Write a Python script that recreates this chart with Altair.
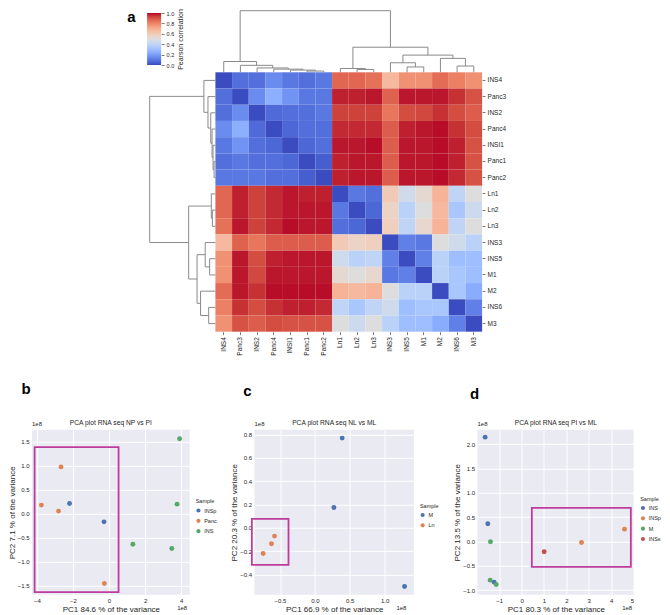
import altair as alt
import pandas as pd

# ---------------- data ----------------
labels = ["INS4", "Panc3", "INS2", "Panc4", "INSI1", "Panc1", "Panc2",
          "Ln1", "Ln2", "Ln3", "INS3", "INS5", "M1", "M2", "INS6", "M3"]

# upper triangle of the correlation matrix (values right of the diagonal, row by row)
upper = [
    [0.08, 0.08, 0.15, 0.10, 0.08, 0.10, 0.86, 0.86, 0.84, 0.66, 0.77, 0.77, 0.85, 0.81, 0.77],
    [0.15, 0.25, 0.17, 0.10, 0.10, 0.97, 0.97, 0.98, 0.87, 0.98, 0.98, 0.98, 0.95, 0.90],
    [0.07, 0.08, 0.08, 0.10, 0.93, 0.93, 0.93, 0.83, 0.91, 0.92, 0.95, 0.91, 0.88],
    [0.06, 0.08, 0.08, 0.96, 0.96, 0.96, 0.88, 0.97, 0.98, 0.99, 0.95, 0.91],
    [0.06, 0.08, 0.98, 0.98, 0.99, 0.88, 0.98, 0.98, 0.99, 0.97, 0.90],
    [0.04, 0.97, 0.98, 0.98, 0.88, 0.98, 0.98, 0.99, 0.97, 0.90],
    [0.97, 0.98, 0.98, 0.88, 0.98, 0.98, 0.99, 0.96, 0.90],
    [0.10, 0.08, 0.60, 0.45, 0.53, 0.68, 0.40, 0.50],
    [0.06, 0.56, 0.38, 0.50, 0.66, 0.33, 0.44],
    [0.58, 0.40, 0.54, 0.68, 0.40, 0.50],
    [0.12, 0.10, 0.50, 0.45, 0.38],
    [0.12, 0.38, 0.30, 0.30],
    [0.38, 0.33, 0.30],
    [0.33, 0.24],
    [0.12],
]

# hierarchical clustering (leaves 0..15, merges numbered from 16)
merge_left = [5, 4, 3, 2, 1, 0, 8, 7, 11, 10, 14, 13, 25, 23, 21]
merge_right = [6, 16, 17, 18, 19, 20, 9, 22, 12, 24, 15, 26, 27, 28, 29]
merge_height = [0.02, 0.036, 0.051, 0.071, 0.113, 0.175, 0.046, 0.062,
                0.087, 0.155, 0.102, 0.226, 0.279, 0.407, 1.0]

# coolwarm colour map
cmap_offsets = [0.0, 0.0625, 0.125, 0.1875, 0.25, 0.3125, 0.375, 0.4375, 0.5,
                0.5625, 0.625, 0.6875, 0.75, 0.8125, 0.875, 0.9375, 1.0]
cmap_colors = ["#3b4cc0", "#4d68d7", "#6282ea", "#779af7", "#8db0fe", "#a3c2ff",
               "#b8d0f9", "#ccd9ee", "#dddddd", "#ecd3c5", "#f5c4ad", "#f7b194",
               "#f49a7b", "#ec7f63", "#de604d", "#cb3e38", "#b40426"]
cbar_ticks = [0.0, 0.2, 0.4, 0.6, 0.8, 1.0]

# panel b
b_sample = ["INSp", "INSp", "Panc", "Panc", "Panc", "Panc", "INS", "INS", "INS", "INS"]
b_pc1 = [-2.19, -0.28, -2.66, -3.75, -2.80, -0.26, 3.91, 3.77, 1.32, 3.48]
b_pc2 = [0.208, -0.174, 0.97, 0.174, 0.049, -1.458, 1.556, 0.194, -0.64, -0.73]
b_order = ["INSp", "Panc", "INS"]
b_colors = ["#4C72B0", "#DD8452", "#55A868"]
b_box = [-4.125, 0.528, -1.639, 1.382]

# panel c
c_sample = ["M", "M", "M", "Ln", "Ln", "Ln"]
c_pc1 = [0.392, 0.273, 1.287, -0.579, -0.622, -0.742]
c_pc2 = [0.769, 0.174, -0.503, -0.071, -0.137, -0.22]
c_order = ["M", "Ln"]
c_colors = ["#4C72B0", "#DD8452"]
c_box = [-0.904, -0.378, -0.317, 0.077]

# panel d
d_sample = ["INS", "INS", "INS", "INSp", "INSp", "M", "M", "M", "INSs"]
d_pc1 = [-1.628, -1.509, -1.226, 2.676, 4.598, -1.39, -1.404, -1.136, 1.008]
d_pc2 = [2.144, 0.363, -0.836, -0.021, 0.253, -0.007, -0.795, -0.884, -0.212]
d_order = ["INS", "INSp", "M", "INSs"]
d_colors = ["#4C72B0", "#DD8452", "#55A868", "#C44E52"]
d_box = [0.457, 4.88, -0.521, 0.692]

TXT = "#262626"
MAG = "#BE3C9E"
DENDRO = "#8a8a8a"
FONT = "Liberation Sans"

# ---------------- top panel geometry (pixels inside the top chart) ----------------
X0 = 31.6                               # page x of the chart origin
TOP_W, TOP_H = 481.7 - X0, 321.7
HX = [215.0 - X0, 481.7 - X0]           # heatmap left/right
HY = [62.3, 321.7]                      # heatmap top/bottom
CBX = [146.7 - X0, 160.7 - X0]          # colour bar left/right
CBY = [55.0, 3.0]                       # colour bar bottom/top

n = len(labels)
mat = [[0.0] * n for _ in range(n)]
for i, row_vals in enumerate(upper):
    for k, v in enumerate(row_vals):
        j = i + 1 + k
        mat[i][j] = v
        mat[j][i] = v
heat_df = pd.DataFrame([(labels[i], labels[j], mat[i][j]) for i in range(n) for j in range(n)],
                       columns=["row", "col", "value"])

heat = alt.Chart(heat_df).mark_rect().encode(
    x=alt.X("col:N", sort=labels, scale=alt.Scale(range=HX, paddingInner=0, paddingOuter=0),
            axis=alt.Axis(title=None, orient="bottom", labelAngle=270, labelFontSize=6.5,
                          labelColor=TXT, tickSize=3, tickColor=TXT, tickWidth=0.6, domain=False,
                          labelPadding=2, labelOverlap=False)),
    y=alt.Y("row:N", sort=labels, scale=alt.Scale(range=HY, paddingInner=0, paddingOuter=0),
            axis=alt.Axis(title=None, orient="right", labelFontSize=6.5, labelColor=TXT,
                          tickSize=3, tickColor=TXT, tickWidth=0.6, domain=False,
                          labelPadding=2, labelOverlap=False)),
    color=alt.Color("value:Q", scale=alt.Scale(domain=cmap_offsets, range=cmap_colors,
                                               interpolate="rgb"), legend=None),
)

# dendrogram segments
pos = [i + 0.5 for i in range(n)]
hgt = [0.0] * n
segs = []
for l, r, h in zip(merge_left, merge_right, merge_height):
    pl, pr = pos[l], pos[r]
    segs.append((pl, hgt[l], pl, h))
    segs.append((pl, h, pr, h))
    segs.append((pr, h, pr, hgt[r]))
    pos.append((pl + pr) / 2)
    hgt.append(h)
seg_df = pd.DataFrame(segs, columns=["p1", "h1", "p2", "h2"])

top_dendro = alt.Chart(seg_df).mark_rule(color=DENDRO, strokeWidth=1).encode(
    x=alt.X("p1:Q", scale=alt.Scale(domain=[0, n], range=HX, nice=False, zero=False), axis=None),
    x2="p2:Q",
    y=alt.Y("h1:Q", scale=alt.Scale(domain=[0, 1.0], range=[HY[0], 0.7], nice=False), axis=None),
    y2="h2:Q",
)
left_dendro = alt.Chart(seg_df).mark_rule(color=DENDRO, strokeWidth=1).encode(
    y=alt.Y("p1:Q", scale=alt.Scale(domain=[0, n], range=HY, nice=False, zero=False), axis=None),
    y2="p2:Q",
    x=alt.X("h1:Q", scale=alt.Scale(domain=[0, 1.0], range=[HX[0], HX[0] - 65.7], nice=False), axis=None),
    x2="h2:Q",
)

cbar = alt.Chart(pd.DataFrame({"lo": [0.0], "hi": [1.0]})).mark_rect(
    fill=alt.Gradient(gradient="linear",
                      stops=[alt.GradientStop(color=c, offset=o) for c, o in zip(cmap_colors, cmap_offsets)],
                      x1=0, x2=0, y1=1, y2=0),
    strokeWidth=0,
).encode(
    x=alt.X("lo:Q", scale=alt.Scale(domain=[0, 1], range=CBX, nice=False), axis=None),
    x2="hi:Q",
    y=alt.Y("lo:Q", scale=alt.Scale(domain=[0, 1], range=CBY, nice=False), axis=alt.Axis(
        orient="right", offset=CBX[1] - TOP_W, values=cbar_ticks, format=".1f",
        title="Pearson correlation", titleAngle=270, titleBaseline="top", labelFontSize=5.5,
        titleFontSize=7, titleFontWeight="normal", tickSize=3, tickColor=TXT, tickWidth=0.6,
        domain=False, labelPadding=2, titlePadding=3, labelColor=TXT, titleColor=TXT,
        grid=False, labelOverlap=False)),
    y2="hi:Q",
)

a_label = alt.Chart(pd.DataFrame({"t": ["a"]})).mark_text(
    fontSize=15, fontWeight="bold", color="black", align="center", baseline="middle"
).encode(text="t:N", x=alt.value(131 - X0), y=alt.value(7))

top_chart = alt.layer(heat, top_dendro, left_dendro, cbar, a_label).resolve_scale(
    x="independent", y="independent").properties(width=TOP_W, height=TOP_H)

# ---------------- PCA panels ----------------
def pca_panel(pc1, pc2, sample, order, colors, xdom, ydom, xticks, yticks, xfmt, yfmt,
              title, xtitle, ytitle, box, letter, width, leg_dy, let_dx, let_dy, off_dx):
    height = 165
    pts = pd.DataFrame({"pc1": pc1, "pc2": pc2, "Sample": sample})
    xs = alt.Scale(domain=xdom, nice=False, zero=False)
    ys = alt.Scale(domain=ydom, nice=False, zero=False)
    common = dict(grid=True, gridColor="white", gridWidth=1, domain=False, ticks=False,
                  labelFontSize=6, labelColor=TXT, titleFontSize=8, titleFontWeight="normal",
                  titleColor=TXT, labelOverlap=False)
    xaxis = alt.Axis(values=xticks, format=xfmt, title=xtitle, labelPadding=3, titlePadding=1.5, **common)
    yaxis = alt.Axis(values=yticks, format=yfmt, title=ytitle, labelPadding=3, titlePadding=1, **common)
    points = alt.Chart(pts).mark_circle(size=24, opacity=1).encode(
        x=alt.X("pc1:Q", scale=xs, axis=xaxis),
        y=alt.Y("pc2:Q", scale=ys, axis=yaxis),
        color=alt.Color("Sample:N", scale=alt.Scale(domain=order, range=colors), sort=order,
                        legend=alt.Legend(title="Sample", orient="none", legendX=width + 6,
                                          legendY=leg_dy, titleFontSize=5.5, titleFontWeight="normal",
                                          labelFontSize=5.5, symbolSize=17, symbolType="circle",
                                          rowPadding=3.3, titlePadding=3, labelOffset=3, padding=0,
                                          titleColor=TXT, labelColor=TXT, symbolStrokeWidth=0)),
    )
    box_df = pd.DataFrame({"pc1": [box[0]], "pc1_end": [box[1]], "pc2": [box[2]], "pc2_end": [box[3]]})
    rect = alt.Chart(box_df).mark_rect(fillOpacity=0, stroke=MAG, strokeWidth=1.8).encode(
        x=alt.X("pc1:Q", scale=xs, axis=xaxis), x2="pc1_end:Q",
        y=alt.Y("pc2:Q", scale=ys, axis=yaxis), y2="pc2_end:Q",
    )
    off_top = alt.Chart(pd.DataFrame({"t": ["1e8"]})).mark_text(
        fontSize=6, color=TXT, align="left", baseline="middle"
    ).encode(text="t:N", x=alt.value(0), y=alt.value(-6))
    off_bot = alt.Chart(pd.DataFrame({"t": ["1e8"]})).mark_text(
        fontSize=6, color=TXT, align="right", baseline="middle"
    ).encode(text="t:N", x=alt.value(width + off_dx), y=alt.value(height + 13))
    ttl = alt.Chart(pd.DataFrame({"t": [title]})).mark_text(
        fontSize=6.7, color=TXT, align="center", baseline="middle"
    ).encode(text="t:N", x=alt.value(width / 2), y=alt.value(-7))
    let = alt.Chart(pd.DataFrame({"t": [letter]})).mark_text(
        fontSize=15, fontWeight="bold", color="black", align="center", baseline="middle"
    ).encode(text="t:N", x=alt.value(let_dx), y=alt.value(let_dy))
    return alt.layer(points, rect, off_top, off_bot, ttl, let).properties(
        width=width, height=height,
        view=alt.ViewBackground(fill="#EAEAF2", stroke=None),
    )

pb = pca_panel(b_pc1, b_pc2, b_sample, b_order, b_colors, [-4.27, 4.47], [-1.694, 1.743],
               [-4, -2, 0, 2, 4], [-1.5, -1.0, -0.5, 0.0, 0.5, 1.0, 1.5], "d", ".1f",
               "PCA plot RNA seq NP vs PI", "PC1 84.6 % of the variance", "PC2 7.1 % of the variance",
               b_box, "b", 189.3 - X0, 69.5, -6, -41, -2.5)
pc = pca_panel(c_pc1, c_pc2, c_sample, c_order, c_colors, [-0.866, 1.421], [-0.574, 0.84],
               [-0.5, 0.0, 0.5, 1.0], [-0.4, -0.2, 0.0, 0.2, 0.4, 0.6, 0.8], ".1f", ".1f",
               "PCA plot RNA seq NL vs ML", "PC1 66.9 % of the variance", "PC2 20.3 % of the variance",
               c_box, "c", 159.4, 74, -7, -39, -7.5)
pdd = pca_panel(d_pc1, d_pc2, d_sample, d_order, d_colors, [-1.97, 5.03], [-1.096, 2.295],
                [-2, -1, 0, 1, 2, 3, 4, 5], [-1.0, -0.5, 0.0, 0.5, 1.0, 1.5, 2.0], "d", ".1f",
                "PCA plot RNA seq PI vs ML", "PC1 80.3 % of the variance", "PC2 13.5 % of the variance",
                d_box, "d", 156.7, 67, -3, -36, -2)

# ---------------- layout ----------------
pca_inner = alt.hconcat(pb, pc, spacing=12.5).resolve_scale(color="independent").resolve_legend(color="independent")
pca_row = alt.hconcat(pca_inner, pdd, spacing=14.5).resolve_scale(color="independent").resolve_legend(color="independent")

chart = alt.vconcat(top_chart, pca_row, spacing=25.8).resolve_scale(
    color="independent").resolve_legend(color="independent").properties(padding=0).configure(
    font=FONT).configure_view(stroke=None)

chart.save("out.html", embed_options={"renderer": "svg", "actions": False})
